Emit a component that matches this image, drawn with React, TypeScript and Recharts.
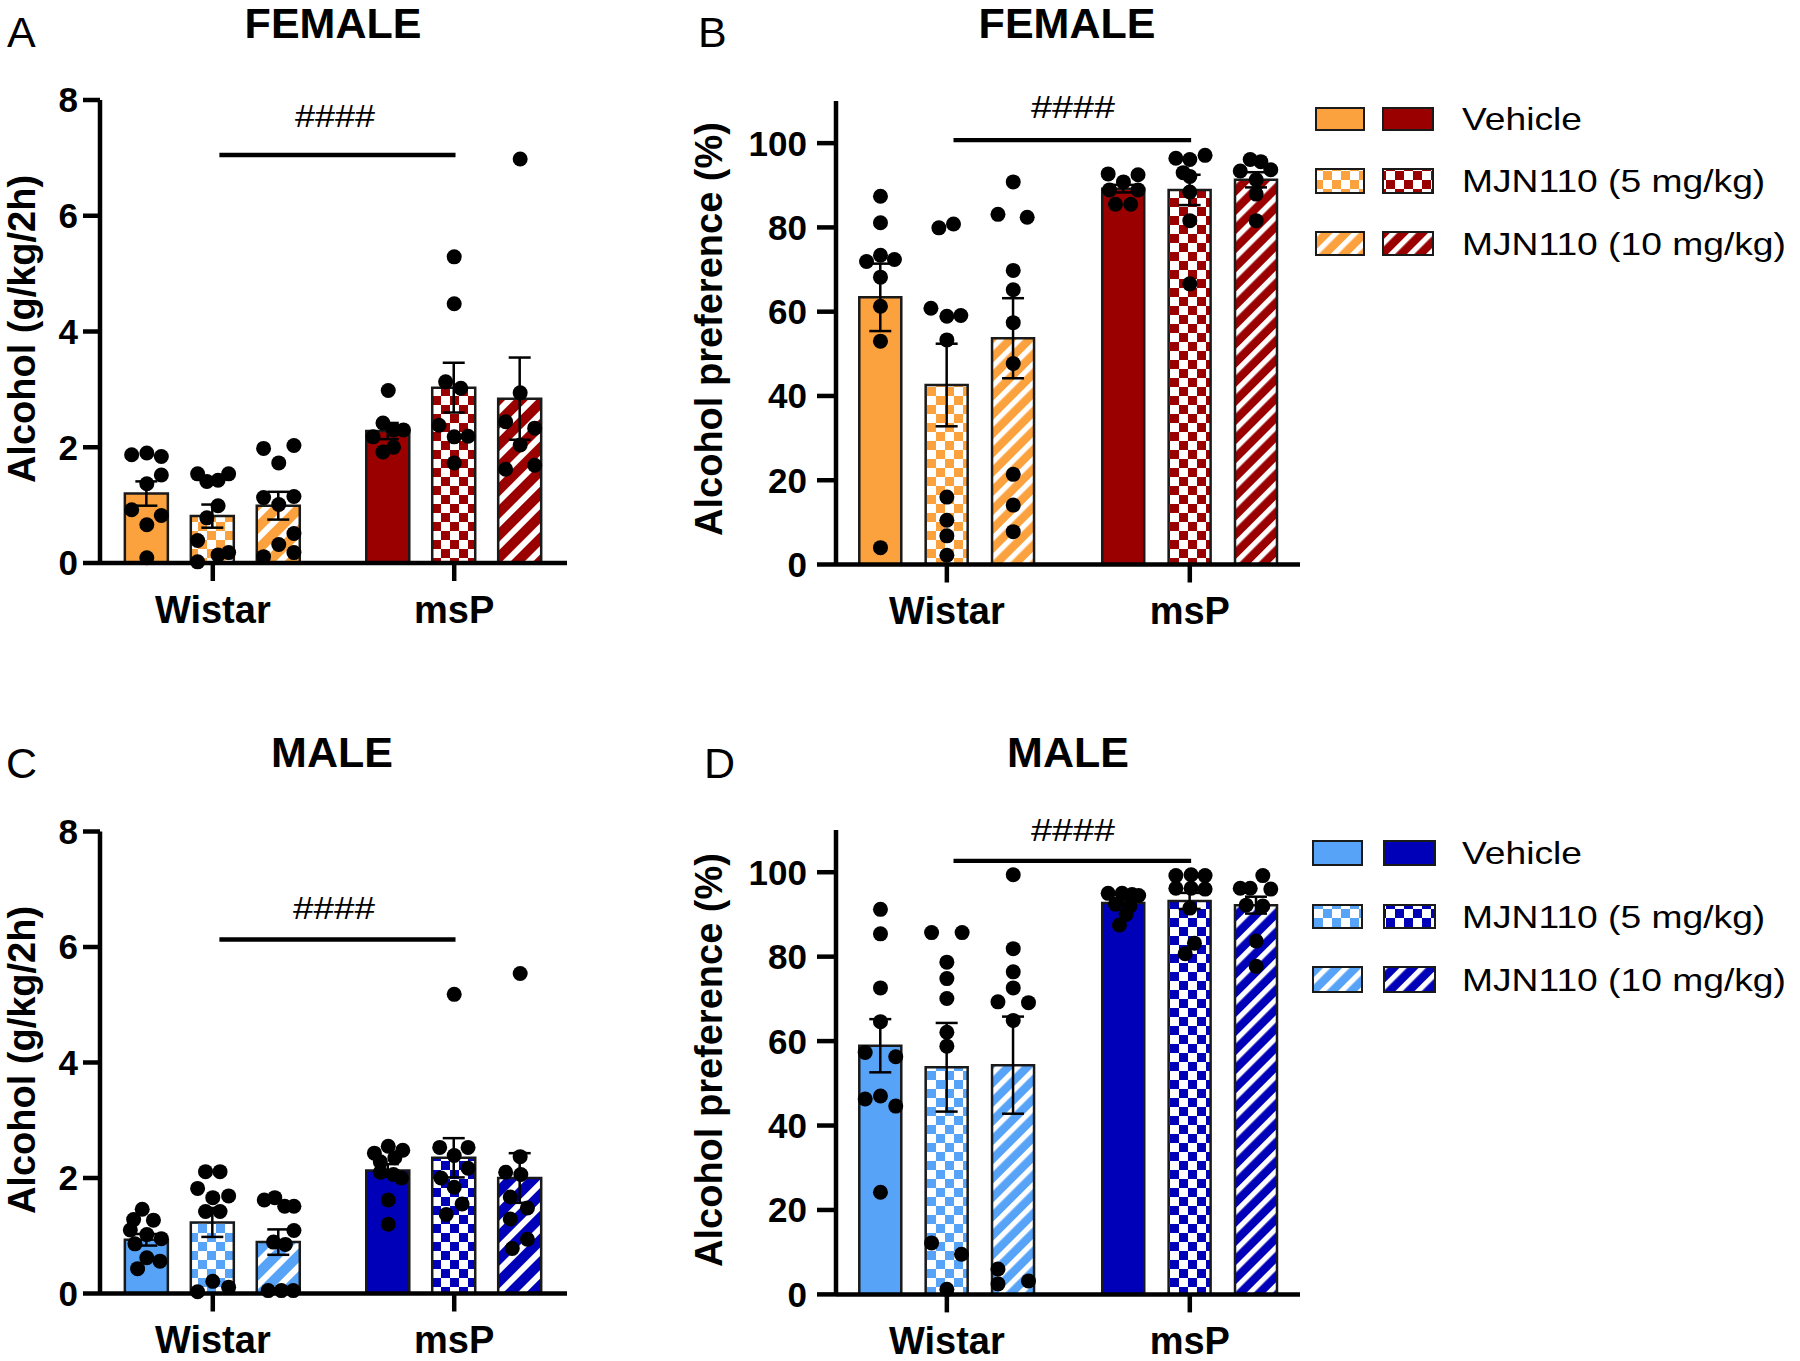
import React from 'react';
import { ComposedChart, Bar, Cell, ErrorBar, Scatter, XAxis, YAxis, ReferenceLine } from 'recharts';

const FONT = '"Liberation Sans", Arial, Helvetica, sans-serif';
const PAGE_W = 1800;
const PAGE_H = 1361;

// ---------- data ----------
const groups = ['Wistar', 'msP'];
const treatments = ['Vehicle', 'MJN110 (5 mg/kg)', 'MJN110 (10 mg/kg)'];
const sigLabel = '####';

// order of bars: Wistar Vehicle, Wistar 5, Wistar 10, msP Vehicle, msP 5, msP 10
// points are [value, horizontal jitter in bar-spacing units]

// A: female alcohol intake (g/kg/2h)
const femaleIntakeMean = [1.2, 0.81, 0.99, 2.28, 3.03, 2.84];
const femaleIntakeSem = [0.21, 0.2, 0.24, 0.14, 0.43, 0.71];
const femaleIntakePoints = [
  [[1.87, -0.23], [1.9, 0], [1.84, 0.22], [1.52, 0.22], [1.37, 0], [0.92, -0.23], [0.82, 0.22], [0.66, 0], [0.09, 0]],
  [[1.54, -0.23], [1.41, -0.09], [1.43, 0.08], [1.54, 0.24], [0.99, 0.08], [0.78, -0.09], [0.39, -0.23], [0.02, -0.23], [0.14, 0.08], [0.18, 0.24]],
  [[1.98, -0.23], [2.03, 0.23], [1.73, 0], [1.13, -0.23], [1.15, 0.23], [1.01, 0], [0.51, 0.23], [0.32, 0], [0.18, 0.23], [0.11, -0.23]],
  [[2.98, 0], [2.42, -0.08], [2.3, 0.08], [2.3, 0.23], [2.18, -0.23], [1.92, -0.08], [2.0, 0.08]],
  [[5.29, 0], [4.48, 0], [3.13, -0.13], [3.02, 0.1], [2.38, -0.23], [2.18, 0], [2.19, 0.21], [1.73, 0]],
  [[6.98, 0], [2.94, 0], [2.44, -0.22], [2.33, 0.22], [2.04, 0], [1.62, -0.22], [1.69, 0.22]],
];
const femaleIntakeSig = 7.05;

// B: female alcohol preference (%)
const femalePrefMean = [63.4, 42.6, 53.7, 89.2, 88.9, 91.3];
const femalePrefSem = [8.0, 9.8, 9.5, 0.9, 3.6, 1.8];
const femalePrefPoints = [
  [[87.4, 0], [81.1, 0], [71.9, -0.21], [73.4, 0], [72.4, 0.21], [68.2, 0], [61.3, 0], [53.0, 0], [4.0, 0]],
  [[79.9, -0.12], [80.8, 0.1], [60.8, -0.24], [58.9, 0], [59.1, 0.21], [53.3, 0], [16.0, 0], [10.5, 0], [6.8, 0], [2.2, 0]],
  [[90.8, 0], [83.1, -0.23], [82.4, 0.21], [69.8, 0], [65.2, 0], [57.4, 0], [47.7, 0], [21.4, 0], [14.1, 0], [7.8, 0]],
  [[92.7, -0.23], [92.5, 0.22], [90.8, 0], [88.9, -0.21], [88.9, 0.22], [85.5, -0.12], [85.5, 0.11]],
  [[97.1, 0.23], [96.4, -0.21], [96.1, 0], [93.0, -0.1], [92.1, 0], [88.4, 0], [81.6, 0], [66.6, 0]],
  [[93.4, -0.24], [96.1, -0.09], [95.6, 0.07], [93.7, 0.22], [91.3, 0], [87.9, 0], [81.6, 0]],
];
const femalePrefSig = 100.7;

// C: male alcohol intake (g/kg/2h)
const maleIntakeMean = [0.93, 1.23, 0.89, 2.13, 2.35, 2.0];
const maleIntakeSem = [0.1, 0.25, 0.22, 0.11, 0.34, 0.43];
const maleIntakePoints = [
  [[1.46, -0.07], [1.28, -0.2], [1.27, 0.1], [1.1, -0.25], [1.02, 0], [0.95, 0.22], [0.86, -0.18], [0.62, 0], [0.56, 0.2], [0.43, -0.14]],
  [[2.11, -0.11], [2.11, 0.11], [1.82, -0.23], [1.66, 0], [1.69, 0.24], [1.42, -0.11], [1.42, 0.11], [0.21, 0], [0.03, -0.23], [0.11, 0.24]],
  [[1.62, -0.22], [1.66, -0.06], [1.51, 0.09], [1.51, 0.23], [1.09, 0.23], [0.89, -0.08], [0.85, 0.1], [0.05, -0.16], [0.05, 0.04], [0.05, 0.22]],
  [[2.55, 0], [2.48, 0.22], [2.43, -0.21], [2.35, 0.1], [2.28, -0.12], [2.1, -0.12], [2.06, 0.08], [2.0, 0.2], [1.62, 0], [1.2, 0]],
  [[5.18, 0], [2.53, -0.22], [2.53, 0.21], [2.39, 0], [2.17, 0.21], [2.0, -0.2], [1.84, 0], [1.55, 0.12], [1.37, -0.12]],
  [[5.54, 0], [2.37, 0], [2.1, -0.22], [2.06, 0.01], [1.67, -0.15], [1.48, 0.11], [1.29, -0.15], [0.94, 0.11], [0.78, -0.12]],
];
const maleIntakeSig = 6.13;

// D: male alcohol preference (%)
const malePrefMean = [58.9, 53.8, 54.3, 92.7, 93.2, 92.2];
const malePrefSem = [6.3, 10.5, 11.5, 0.8, 1.9, 2.0];
const malePrefPoints = [
  [[91.2, 0], [85.4, 0], [72.6, 0], [64.6, 0], [57.3, -0.23], [56.3, 0.23], [47, 0], [46.3, -0.23], [44.6, 0.23], [24.2, 0]],
  [[85.7, -0.23], [85.7, 0.23], [78.7, 0], [74.8, 0], [70.1, 0], [62.1, 0], [58.8, 0], [12.2, -0.23], [9.5, 0.22], [1.2, 0]],
  [[99.4, 0], [81.9, 0], [76.4, 0], [72.6, 0], [69.3, -0.23], [69.1, 0.23], [64.9, 0], [6.0, -0.23], [2.5, -0.23], [3.2, 0.23]],
  [[95.0, -0.23], [95.0, -0.02], [94.7, 0.13], [94.5, 0.23], [92.4, -0.12], [92.0, 0.1], [90.0, 0.04], [87.5, -0.06]],
  [[99.2, -0.21], [99.4, 0.02], [99.2, 0.23], [96.2, -0.21], [96.2, 0.02], [96.0, 0.23], [91.5, 0], [83.2, 0.07], [80.7, -0.07]],
  [[99.2, 0.1], [96.2, -0.24], [96.2, -0.09], [96.0, 0.22], [92.2, -0.15], [92.0, 0.1], [83.7, 0], [77.7, 0]],
];
const malePrefSig = 102.7;

const intakeTicks = [0, 2, 4, 6, 8];
const prefTicks = [0, 20, 40, 60, 80, 100];

// ---------- styles ----------
const orange = '#FBA23F';
const darkRed = '#9A0000';
const lightBlue = '#56A3F8';
const darkBlue = '#0000B8';

const GROUP_STRIDE = 3.66;
const barX = (i: number) => Math.floor(i / 3) * GROUP_STRIDE + (i % 3);
const groupTicks = groups.map((_, g) => g * GROUP_STRIDE + 1);

function fillFor(i: number, light: string, dark: string, lightKey: string, darkKey: string, stripeKey: string) {
  const g = Math.floor(i / 3);
  const t = i % 3;
  const color = g === 0 ? light : dark;
  const key = g === 0 ? lightKey : darkKey;
  if (t === 0) return color;
  if (t === 1) return `url(#chk-${key})`;
  return `url(#str-${key}-${stripeKey})`;
}

type PanelProps = {
  plot: { left: number; top: number; right: number; bottom: number };
  xDomain: [number, number];
  yDomain: [number, number];
  yTicks: number[];
  means: number[];
  sems: number[];
  points: number[][][];
  sig: number;
  light: string;
  dark: string;
  lightKey: string;
  darkKey: string;
  stripeKey: string;
  barSize: number;
  yTickSize: number;
  yTickMargin: number;
};

const Y_AXIS_W = 80;
const X_AXIS_H = 60;

function Panel(p: PanelProps) {
  const rows = p.means.map((m, i) => ({ x: barX(i), y: m, sem: p.sems[i] }));
  const pts: { x: number; y: number }[] = [];
  p.points.forEach((arr, i) => arr.forEach(([v, dx]) => pts.push({ x: barX(i) + dx, y: v })));
  const margin = {
    left: p.plot.left - Y_AXIS_W,
    top: p.plot.top,
    right: PAGE_W - p.plot.right,
    bottom: PAGE_H - p.plot.bottom - X_AXIS_H,
  };
  return (
    <div style={{ position: 'absolute', left: 0, top: 0 }}>
      <ComposedChart width={PAGE_W} height={PAGE_H} data={rows} margin={margin}>
        <XAxis
          xAxisId="bars"
          dataKey="x"
          type="number"
          domain={p.xDomain}
          ticks={groupTicks}
          interval={0}
          tickFormatter={(v: number) => groups[groupTicks.findIndex((t) => Math.abs(t - v) < 0.01)] ?? ''}
          height={X_AXIS_H}
          axisLine={{ stroke: '#000', strokeWidth: 4.5 }}
          tickLine={{ stroke: '#000', strokeWidth: 4.5 }}
          tickSize={18}
          tickMargin={15}
          tick={{ fontSize: 38, fontWeight: 700, fill: '#000', fontFamily: FONT }}
        />
        <XAxis xAxisId="pts" dataKey="x" type="number" domain={p.xDomain} hide />
        <YAxis
          type="number"
          domain={p.yDomain}
          ticks={p.yTicks}
          interval={0}
          width={Y_AXIS_W}
          axisLine={{ stroke: '#000', strokeWidth: 4.5 }}
          tickLine={{ stroke: '#000', strokeWidth: 4.5 }}
          tickSize={p.yTickSize}
          tickMargin={p.yTickMargin}
          tick={{ fontSize: 35, fontWeight: 700, fill: '#000', fontFamily: FONT }}
        />
        <Bar xAxisId="bars" dataKey="y" barSize={p.barSize} isAnimationActive={false}>
          {rows.map((_, i) => (
            <Cell
              key={i}
              fill={fillFor(i, p.light, p.dark, p.lightKey, p.darkKey, p.stripeKey)}
              stroke="#1a1a1a"
              strokeWidth={2.5}
            />
          ))}
          <ErrorBar dataKey="sem" width={11} strokeWidth={2.5} stroke="#000" direction="y" />
        </Bar>
        <Scatter
          xAxisId="pts"
          data={pts}
          dataKey="y"
          isAnimationActive={false}
          shape={(s: any) => <circle cx={s.cx} cy={s.cy} r={7.5} fill="#000" />}
        />
        <ReferenceLine
          xAxisId="bars"
          segment={[{ x: 1.1, y: p.sig }, { x: 4.68, y: p.sig }]}
          stroke="#000"
          strokeWidth={4.3}
        />
      </ComposedChart>
    </div>
  );
}

function Checker({ id, color }: { id: string; color: string }) {
  return (
    <pattern id={id} patternUnits="userSpaceOnUse" width={18} height={18}>
      <rect width={18} height={18} fill="#fff" />
      <rect width={9} height={9} fill={color} />
      <rect x={9} y={9} width={9} height={9} fill={color} />
    </pattern>
  );
}

function Stripe({ id, color, period, white }: { id: string; color: string; period: number; white: number }) {
  return (
    <pattern id={id} patternUnits="userSpaceOnUse" width={period} height={period} patternTransform="rotate(45)">
      <rect width={period} height={period} fill={color} />
      <rect width={white} height={period} fill="#fff" />
    </pattern>
  );
}

function LegendBlock({ x1, x2, rows, light, dark, lightKey, darkKey, textX }: any) {
  return (
    <g>
      {rows.map((r: number[], i: number) => {
        const fl = i === 0 ? light : i === 1 ? `url(#chk-${lightKey})` : `url(#str-${lightKey}-b)`;
        const fd = i === 0 ? dark : i === 1 ? `url(#chk-${darkKey})` : `url(#str-${darkKey}-b)`;
        const ty = (r[0] + r[1]) / 2 + 11;
        return (
          <g key={i}>
            <rect x={x1[0]} y={r[0]} width={x1[1] - x1[0]} height={r[1] - r[0]} fill={fl} stroke="#1a1a1a" strokeWidth={2} />
            <rect x={x2[0]} y={r[0]} width={x2[1] - x2[0]} height={r[1] - r[0]} fill={fd} stroke="#1a1a1a" strokeWidth={2} />
            <text transform={`translate(${textX},${ty}) scale(1.22,1)`} fontSize={30.5} fill="#000">
              {treatments[i]}
            </text>
          </g>
        );
      })}
    </g>
  );
}

function Overlay() {
  return (
    <svg width={PAGE_W} height={PAGE_H} style={{ position: 'absolute', left: 0, top: 0 }} fontFamily={FONT}>
      <defs>
        <Checker id="chk-orange" color={orange} />
        <Checker id="chk-red" color={darkRed} />
        <Checker id="chk-lblue" color={lightBlue} />
        <Checker id="chk-dblue" color={darkBlue} />
        <Stripe id="str-orange-a" color={orange} period={16} white={6} />
        <Stripe id="str-red-a" color={darkRed} period={16} white={6} />
        <Stripe id="str-lblue-a" color={lightBlue} period={16} white={6} />
        <Stripe id="str-dblue-a" color={darkBlue} period={16} white={6} />
        <Stripe id="str-orange-b" color={orange} period={13.5} white={5.2} />
        <Stripe id="str-red-b" color={darkRed} period={13.5} white={5.2} />
        <Stripe id="str-lblue-b" color={lightBlue} period={13.5} white={5.2} />
        <Stripe id="str-dblue-b" color={darkBlue} period={13.5} white={5.2} />
      </defs>
      <rect width={PAGE_W} height={PAGE_H} fill="#fff" />
      {/* panel letters */}
      <text x={7} y={47} fontSize={43}>A</text>
      <text x={698} y={47} fontSize={43}>B</text>
      <text x={6} y={778} fontSize={43}>C</text>
      <text x={704} y={778} fontSize={43}>D</text>
      {/* titles */}
      <text x={333} y={38} fontSize={43} fontWeight={700} textAnchor="middle">FEMALE</text>
      <text x={1067} y={38} fontSize={43} fontWeight={700} textAnchor="middle">FEMALE</text>
      <text x={332} y={767} fontSize={43} fontWeight={700} textAnchor="middle">MALE</text>
      <text x={1068} y={767} fontSize={43} fontWeight={700} textAnchor="middle">MALE</text>
      {/* y-axis titles */}
      <text transform="translate(35,329) rotate(-90)" fontSize={38} fontWeight={700} textAnchor="middle">Alcohol (g/kg/2h)</text>
      <text transform="translate(722,329) rotate(-90)" fontSize={38} fontWeight={700} textAnchor="middle">Alcohol preference (%)</text>
      <text transform="translate(35,1060) rotate(-90)" fontSize={38} fontWeight={700} textAnchor="middle">Alcohol (g/kg/2h)</text>
      <text transform="translate(722,1060) rotate(-90)" fontSize={38} fontWeight={700} textAnchor="middle">Alcohol preference (%)</text>
      {/* significance labels */}
      <text x={295} y={127} fontSize={31} textLength={80} lengthAdjust="spacingAndGlyphs">{sigLabel}</text>
      <text x={1031} y={118} fontSize={32} textLength={84} lengthAdjust="spacingAndGlyphs">{sigLabel}</text>
      <text x={293} y={919} fontSize={32} textLength={82} lengthAdjust="spacingAndGlyphs">{sigLabel}</text>
      <text x={1031} y={841} fontSize={32} textLength={84} lengthAdjust="spacingAndGlyphs">{sigLabel}</text>
      {/* legends */}
      <LegendBlock
        x1={[1316, 1364]}
        x2={[1383, 1433]}
        rows={[[108, 130], [169, 193], [232, 255]]}
        light={orange}
        dark={darkRed}
        lightKey="orange"
        darkKey="red"
        textX={1462}
      />
      <LegendBlock
        x1={[1313, 1362]}
        x2={[1384, 1435]}
        rows={[[841, 865], [905, 928], [967, 992]]}
        light={lightBlue}
        dark={darkBlue}
        lightKey="lblue"
        darkKey="dblue"
        textX={1462}
      />
    </svg>
  );
}

export default function App() {
  return (
    <div style={{ position: 'absolute', left: 0, top: 0, width: PAGE_W, height: PAGE_H, background: '#fff', fontFamily: FONT }}>
      <Overlay />
      <Panel
        plot={{ left: 100, top: 100, right: 567, bottom: 563 }}
        xDomain={[-0.71, 6.37]}
        yDomain={[0, 8]}
        yTicks={intakeTicks}
        means={femaleIntakeMean}
        sems={femaleIntakeSem}
        points={femaleIntakePoints}
        sig={femaleIntakeSig}
        light={orange}
        dark={darkRed}
        lightKey="orange"
        darkKey="red"
        stripeKey="a"
        barSize={43}
        yTickSize={17}
        yTickMargin={5}
      />
      <Panel
        plot={{ left: 836, top: 101, right: 1300, bottom: 564.5 }}
        xDomain={[-0.67, 6.32]}
        yDomain={[0, 110]}
        yTicks={prefTicks}
        means={femalePrefMean}
        sems={femalePrefSem}
        points={femalePrefPoints}
        sig={femalePrefSig}
        light={orange}
        dark={darkRed}
        lightKey="orange"
        darkKey="red"
        stripeKey="b"
        barSize={42}
        yTickSize={19}
        yTickMargin={10}
      />
      <Panel
        plot={{ left: 100, top: 831.5, right: 567, bottom: 1293.5 }}
        xDomain={[-0.71, 6.37]}
        yDomain={[0, 8]}
        yTicks={intakeTicks}
        means={maleIntakeMean}
        sems={maleIntakeSem}
        points={maleIntakePoints}
        sig={maleIntakeSig}
        light={lightBlue}
        dark={darkBlue}
        lightKey="lblue"
        darkKey="dblue"
        stripeKey="a"
        barSize={43}
        yTickSize={17}
        yTickMargin={5}
      />
      <Panel
        plot={{ left: 836, top: 830, right: 1300, bottom: 1294.4 }}
        xDomain={[-0.67, 6.32]}
        yDomain={[0, 110]}
        yTicks={prefTicks}
        means={malePrefMean}
        sems={malePrefSem}
        points={malePrefPoints}
        sig={malePrefSig}
        light={lightBlue}
        dark={darkBlue}
        lightKey="lblue"
        darkKey="dblue"
        stripeKey="b"
        barSize={42}
        yTickSize={19}
        yTickMargin={10}
      />
    </div>
  );
}
